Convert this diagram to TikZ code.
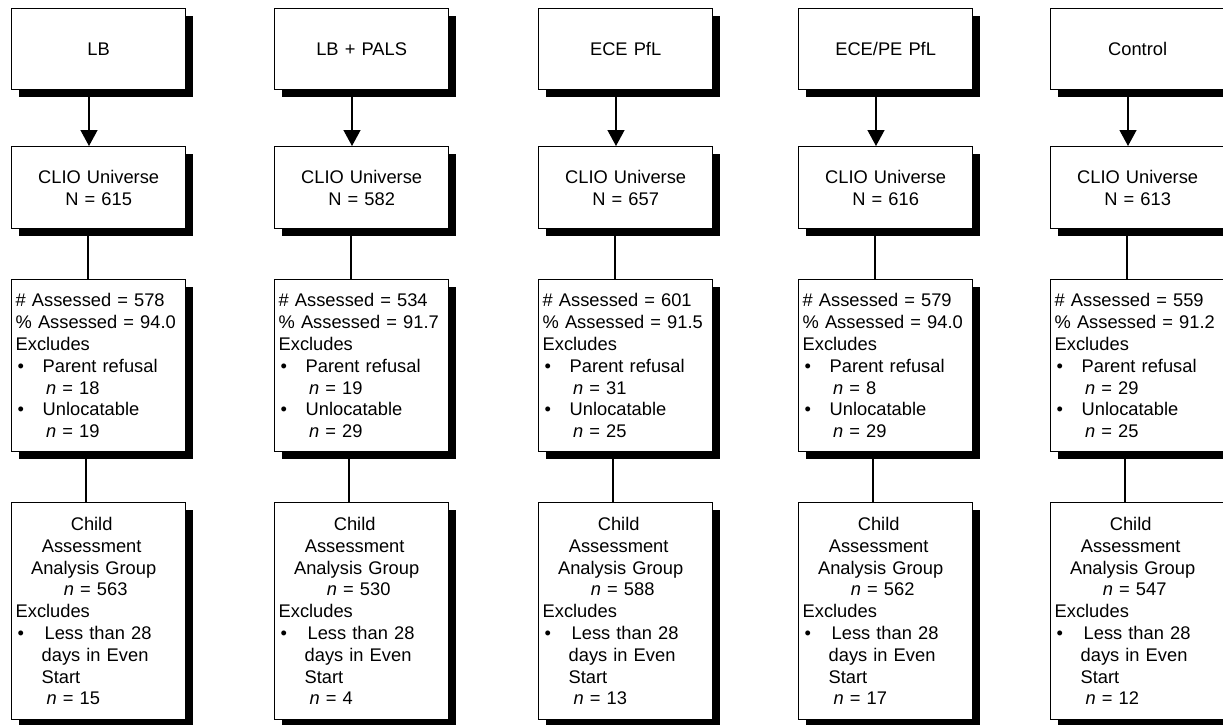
\documentclass[tikz,border=0pt]{standalone}
\usepackage{fontspec}
\setmainfont{Liberation Sans}
\usetikzlibrary{shadows,arrows.meta,calc}
\tikzset{
  flowbox/.style={draw=black, line width=1.3pt, fill=white, rectangle,
    minimum width=174pt, text width=166pt, inner xsep=4pt, inner ysep=0pt,
    anchor=north west, font=\fontsize{18.3}{21.8}\selectfont,
    drop shadow={shadow xshift=7pt, shadow yshift=-7pt, fill=black, opacity=1}},
  conn/.style={line width=1.3pt, draw=black},
  arr/.style={conn, -{Triangle[length=16pt,width=17pt]}}
}
\newcommand{\bul}[1]{\makebox[#1][l]{\hspace*{2pt}\textbullet}}
\begin{document}
\begin{tikzpicture}[x=1pt,y=-1pt]
\useasboundingbox (0,0) rectangle (1223,724);
\foreach \X/\T/\N/\A/\P/\R/\U/\G/\L [count=\i] in {
  11/{LB}/615/578/94.0/18/19/563/15,
  274/{LB + PALS}/582/534/91.7/19/29/530/4,
  538/{ECE PfL}/657/601/91.5/31/25/588/13,
  798/{ECE/PE PfL}/616/579/94.0/8/29/562/17,
  1050/{Control}/613/559/91.2/29/25/547/12}{
  \node[flowbox, minimum height=81pt, align=center] (t\i) at (\X,8) {\T};
  \node[flowbox, minimum height=82pt, align=center] (c\i) at (\X,146) {CLIO Universe\\N = \N};
  \node[flowbox, minimum height=172pt, align=left] (a\i) at (\X,279)
    {\#~Assessed = \A\\
     \%~Assessed = \P\\
     Excludes\\
     \bul{27pt}Parent refusal\\
     \hspace*{30.5pt}\textit{n} = \R\\
     \bul{27pt}Unlocatable\\
     \hspace*{30.5pt}\textit{n} = \U};
  \node[flowbox, minimum height=217pt, align=left] (g\i) at (\X,502)
    {\makebox[152pt]{Child}\\
     \makebox[152pt]{Assessment}\\
     \makebox[156pt]{Analysis Group}\\
     \makebox[160pt]{\textit{n} = \G}\\
     Excludes\\
     \bul{29pt}Less than 28\\
     \hspace*{26pt}days in Even\\
     \hspace*{26pt}Start\\
     \hspace*{31pt}\textit{n} = \L};
  \draw[arr] ($(t\i.south west)+(78,0)$) -- ($(c\i.north west)+(78,0)$);
  \draw[conn] ($(c\i.south west)+(77,0)$) -- ($(a\i.north west)+(77,0)$);
  \draw[conn] ($(a\i.south west)+(75,0)$) -- ($(g\i.north west)+(75,0)$);
}
\end{tikzpicture}
\end{document}
